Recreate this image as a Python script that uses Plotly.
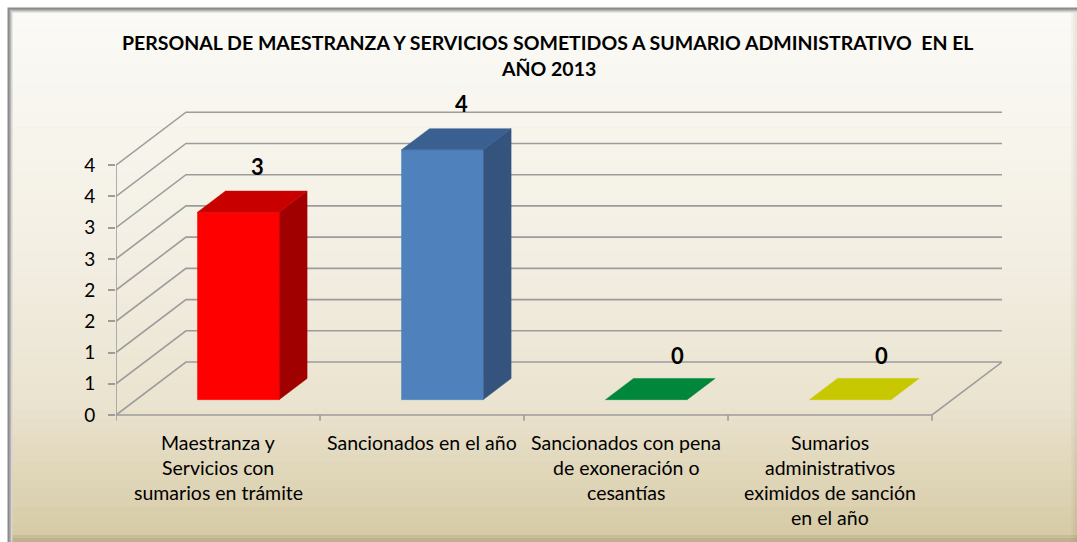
import plotly.graph_objects as go

# ---------------- data ----------------
categories = [
    "Maestranza y<br>Servicios con<br>sumarios en trámite",
    "Sancionados en el año",
    "Sancionados con pena<br>de exoneración o<br>cesantías",
    "Sumarios<br>administrativos<br>eximidos de sanción<br>en el año",
]
values = [3, 4, 0, 0]
label_text = ["3", "4", "0", "0"]
front_colors = ["#FF0000", "#4F81BD", "#00873C", "#C8C800"]
top_colors = ["#C80000", "#3A6092", "#00873C", "#C8C800"]
side_colors = ["#A00000", "#34537D", "#006E30", "#A8A800"]
tick_vals = [0, 0.5, 1, 1.5, 2, 2.5, 3, 3.5, 4]
tick_text = ["0", "1", "1", "2", "2", "3", "3", "4", "4"]
title_lines = ["PERSONAL DE MAESTRANZA Y SERVICIOS SOMETIDOS A SUMARIO ADMINISTRATIVO  EN EL",
               "AÑO 2013"]

# ---------------- geometry ----------------
W, H = 1077, 542
PXU = 62.5                      # pixels per value unit
YMIN, YMAX = -0.128, 5.3
L, R, B = 116, 75, 119
T = int(round(H - B - (YMAX - YMIN) * PXU))
DX, DY = 0.343, 0.848          # depth of the 3D box in data units
F0, F1 = 0.29, 0.69            # bar depth span (fraction of box depth)
HALF = 0.2                     # half bar width
FONT = "Lato, 'Open Sans', sans-serif"

pw, ph = W - L - R, H - T - B
def px_x(px):
    return (px - L) / pw
def px_y(py):
    return (H - B - py) / ph

fig = go.Figure()

# ---------- background (frame + gradient) ----------
shapes = []
def rect(x0, y0, x1, y1, color):
    shapes.append(dict(type="rect", xref="paper", yref="paper", layer="below",
                       x0=px_x(x0), x1=px_x(x1), y0=px_y(y1), y1=px_y(y0),
                       fillcolor=color, line=dict(width=0)))
rect(7.5, 7.5, W, H, "#8a8a8a")
rect(9.5, 9.5, W, H, "#b4b4b4")
rect(11, 11, W, H, "#d6d4d0")

stops = [(0.0, (251, 250, 246)), (0.45, (243, 239, 227)), (0.75, (234, 227, 207)),
         (1.0, (215, 203, 166))]
def interp(t):
    for (a, ca), (b, cb) in zip(stops[:-1], stops[1:]):
        if a <= t <= b:
            u = (t - a) / (b - a)
            return tuple(int(round(ca[k] + (cb[k] - ca[k]) * u)) for k in range(3))
    return stops[-1][1]
top_px, bot_px = 12.5, H
n = 60
for k in range(n):
    y0 = top_px + (bot_px - top_px) * k / n
    y1 = top_px + (bot_px - top_px) * (k + 1) / n + 0.6
    c = interp(min(1.0, (k + 0.5) / n * 1.015))
    rect(12.5, y0, W, y1, "rgb(%d,%d,%d)" % c)
for k in range(3):
    rect(1071 + 2 * k, 12.5, W, H, "rgba(140,125,95,0.05)")
rect(12.5, 535, W, H, "rgba(160,145,110,0.25)")
rect(12.5, 538, W, H, "rgba(160,145,110,0.25)")

# ---------- gridlines / walls ----------
gx, gy = [], []
for v in tick_vals:
    gx += [0, DX, 4 + DX, None]
    gy += [v, v + DY, v + DY, None]
gx += [0, 4, 4 + DX, None]
gy += [0, 0, DY, None]
gx += [0, 0, None]
gy += [0, 4, None]
for i in range(5):
    gx += [i, i, None]
    gy += [0, -0.09, None]
fig.add_trace(go.Scatter(x=gx, y=gy, mode="lines",
                         line=dict(color="#9c9c9c", width=1.6),
                         hoverinfo="skip", showlegend=False))

# ---------- 3D bars ----------
for i, v in enumerate(values):
    c = i + 0.5
    ox, oy = F0 * DX, F0 * DY
    d = F1 - F0
    x0, x1 = c - HALF + ox, c + HALF + ox
    y0, y1 = oy, v + oy
    ddx, ddy = d * DX, d * DY
    if v > 0:
        fig.add_trace(go.Scatter(
            x=[x1, x1 + ddx, x1 + ddx, x1, x1], y=[y0, y0 + ddy, y1 + ddy, y1, y0],
            fill="toself", fillcolor=side_colors[i], mode="lines",
            line=dict(color=side_colors[i], width=0.5), hoverinfo="skip", showlegend=False))
        fig.add_trace(go.Scatter(
            x=[x0, x1, x1, x0, x0], y=[y0, y0, y1, y1, y0],
            fill="toself", fillcolor=front_colors[i], mode="lines",
            line=dict(color=front_colors[i], width=0.5), hoverinfo="skip", showlegend=False))
    fig.add_trace(go.Scatter(
        x=[x0, x1, x1 + ddx, x0 + ddx, x0], y=[y1, y1, y1 + ddy, y1 + ddy, y1],
        fill="toself", fillcolor=top_colors[i], mode="lines",
        line=dict(color=top_colors[i], width=0.5), hoverinfo="skip", showlegend=False))

# ---------- annotations: data labels, title, category labels ----------
annotations = []
for i, v in enumerate(values):
    c = i + 0.5
    frac = 0.57 if v > 0 else 0.74
    lift = 0.40 if v > 0 else 0.36
    annotations.append(dict(xref="x", yref="y", x=c + frac * DX, y=v + F1 * DY + lift,
                            text="<b>%s</b>" % label_text[i], showarrow=False,
                            xanchor="center", yanchor="middle",
                            font=dict(family=FONT, size=22, color="#000000")))
for k, line in enumerate(title_lines):
    annotations.append(dict(xref="paper", yref="paper", x=px_x(548), y=px_y(42 + 26 * k),
                            text="<b>%s</b>" % line, showarrow=False,
                            xanchor="center", yanchor="middle",
                            font=dict(family=FONT, size=19.5, color="#000000")))
for i, cat in enumerate(categories):
    for k, line in enumerate(cat.split("<br>")):
        annotations.append(dict(xref="x", yref="paper", x=i + 0.5, y=px_y(442 + 25 * k),
                                text=line, showarrow=False,
                                xanchor="center", yanchor="middle",
                                font=dict(family=FONT, size=19.5, color="#000000")))

fig.update_layout(
    width=W, height=H,
    margin=dict(l=L, r=R, t=T, b=B, pad=0),
    paper_bgcolor="#ffffff", plot_bgcolor="rgba(0,0,0,0)",
    shapes=shapes, annotations=annotations,
    showlegend=False,
    xaxis=dict(range=[0, 4 + DX], showgrid=False, zeroline=False, showline=False,
               showticklabels=False, ticks="", fixedrange=True),
    yaxis=dict(range=[YMIN, YMAX], showgrid=False, zeroline=False, showline=False,
               tickvals=tick_vals, ticktext=tick_text, ticks="outside", ticklen=7,
               tickcolor="#9c9c9c", tickwidth=1.6, ticklabelstandoff=9,
               tickfont=dict(family=FONT, size=19, color="#000000"), fixedrange=True),
)

fig.write_html("out.html", config={"displayModeBar": False},
               post_script="document.body.style.margin='0';document.body.style.overflow='hidden';")
